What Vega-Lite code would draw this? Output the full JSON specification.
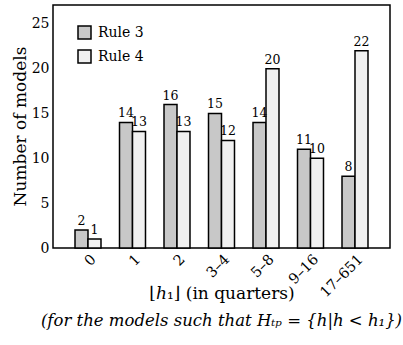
{
  "$schema": "https://vega.github.io/schema/vega-lite/v6.json",
  "width": 337,
  "height": 243,
  "autosize": "none",
  "padding": {"left": 53, "top": 5, "right": 13, "bottom": 97},
  "background": "white",
  "config": {
    "view": {"stroke": "black", "strokeWidth": 1.5},
    "font": "DejaVu Serif"
  },
  "title": {
    "text": "(for the models such that Hₜₚ = {h|h < h₁})",
    "orient": "bottom",
    "anchor": "middle",
    "font": "DejaVu Serif",
    "fontSize": 16.5,
    "fontStyle": "italic",
    "fontWeight": "normal",
    "color": "black",
    "offset": 12
  },
  "data": {
    "values": [
      {"bin": "0", "rule": "Rule 3", "n": 2},
      {"bin": "0", "rule": "Rule 4", "n": 1},
      {"bin": "1", "rule": "Rule 3", "n": 14},
      {"bin": "1", "rule": "Rule 4", "n": 13},
      {"bin": "2", "rule": "Rule 3", "n": 16},
      {"bin": "2", "rule": "Rule 4", "n": 13},
      {"bin": "3–4", "rule": "Rule 3", "n": 15},
      {"bin": "3–4", "rule": "Rule 4", "n": 12},
      {"bin": "5–8", "rule": "Rule 3", "n": 14},
      {"bin": "5–8", "rule": "Rule 4", "n": 20},
      {"bin": "9–16", "rule": "Rule 3", "n": 11},
      {"bin": "9–16", "rule": "Rule 4", "n": 10},
      {"bin": "17–651", "rule": "Rule 3", "n": 8},
      {"bin": "17–651", "rule": "Rule 4", "n": 22}
    ]
  },
  "encoding": {
    "x": {
      "field": "bin", "type": "nominal", "sort": null,
      "scale": {"paddingInner": 0.416, "paddingOuter": 0.4945},
      "axis": {
        "title": "⌊ℎ₁⌋ (in quarters)",
        "titleFont": "DejaVu Serif",
        "titleFontSize": 17,
        "titleFontWeight": "normal",
        "titleColor": "black",
        "titleBaseline": "alphabetic",
        "titleY": 50,
        "labelAngle": -45,
        "labelAlign": "right",
        "labelBaseline": "middle",
        "labelFont": "DejaVu Serif",
        "labelFontSize": 14.5,
        "labelColor": "black",
        "labelPadding": 9,
        "labelOffset": 6,
        "ticks": false,
        "domain": false,
        "grid": false
      }
    },
    "xOffset": {"field": "rule", "type": "nominal", "scale": {"paddingInner": 0, "paddingOuter": 0}},
    "y": {
      "field": "n", "type": "quantitative",
      "scale": {"domain": [0, 27.1], "nice": false},
      "axis": {
        "title": "Number of models",
        "titleFont": "DejaVu Serif",
        "titleFontSize": 17,
        "titleFontWeight": "normal",
        "titleColor": "black",
        "titleBaseline": "alphabetic",
        "titleAngle": -90,
        "titleAlign": "center",
        "titleX": -28,
        "titleY": 121,
        "values": [0, 5, 10, 15, 20, 25],
        "labelFont": "DejaVu Serif",
        "labelFontSize": 14,
        "labelColor": "black",
        "labelPadding": 4,
        "ticks": false,
        "domain": false,
        "grid": false
      }
    }
  },
  "layer": [
    {
      "mark": {"type": "bar", "stroke": "black", "strokeWidth": 1.5, "opacity": 1},
      "encoding": {
        "color": {
          "field": "rule", "type": "nominal",
          "scale": {"domain": ["Rule 3", "Rule 4"], "range": ["#c8c8c8", "#f0f0f0"]},
          "legend": {
            "title": null,
            "orient": "none",
            "legendX": 24,
            "legendY": 20,
            "symbolType": "square",
            "symbolSize": 169,
            "symbolStrokeColor": "black",
            "symbolStrokeWidth": 1.5,
            "symbolOpacity": 1,
            "labelFont": "DejaVu Serif",
            "labelFontSize": 14,
            "labelColor": "black",
            "labelOffset": 6,
            "rowPadding": 5,
            "padding": 0
          }
        }
      }
    },
    {
      "mark": {"type": "text", "baseline": "alphabetic", "dy": -5, "font": "DejaVu Serif", "fontSize": 12.5, "fill": "black"},
      "encoding": {"text": {"field": "n", "type": "quantitative"}}
    }
  ]
}
